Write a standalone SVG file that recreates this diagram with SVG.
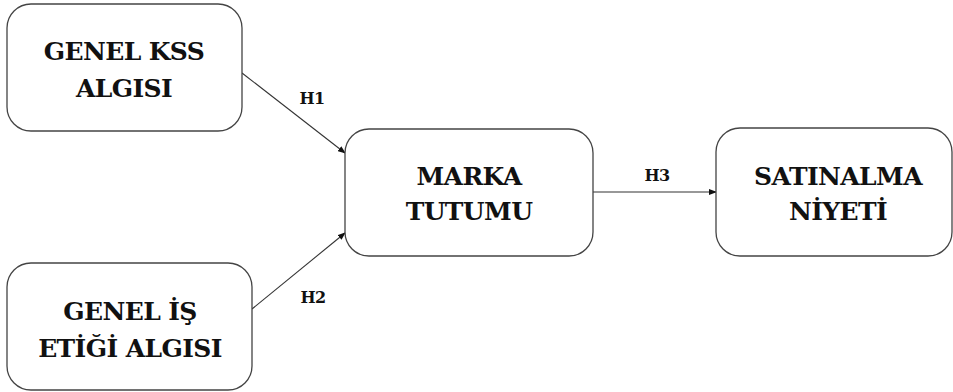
<svg xmlns="http://www.w3.org/2000/svg" width="953" height="392" viewBox="0 0 953 392">
<defs>
<style>
.box{fill:#fff;stroke:#444;stroke-width:1.3}
.t{font-family:'DejaVu Serif',serif;font-weight:700;font-size:25px;fill:#111;text-anchor:middle;letter-spacing:-0.6px}
.h{font-family:'DejaVu Serif',serif;font-weight:700;font-size:16px;fill:#111;text-anchor:middle;letter-spacing:-0.5px}
.c{stroke:#333;stroke-width:1.1;fill:none;marker-end:url(#ah)}
</style>
<marker id="ah" markerWidth="8" markerHeight="6" refX="7" refY="3" orient="auto" markerUnits="userSpaceOnUse">
<path d="M0,0 L8,3 L0,6 Z" fill="#111"/>
</marker>
</defs>
<rect width="953" height="392" fill="#fff"/>
<g id="connectors">
<line class="c" x1="242" y1="73" x2="345" y2="153"/>
<line class="c" x1="252" y1="309" x2="345" y2="233"/>
<line class="c" x1="593" y1="192" x2="716" y2="192"/>
<text class="h" x="312" y="104">H1</text>
<text class="h" x="313" y="303">H2</text>
<text class="h" x="657" y="181">H3</text>
</g>
<g id="n1">
<rect class="box" x="7" y="4" width="235" height="127" rx="24"/>
<text class="t" x="124" y="60">GENEL KSS</text>
<text class="t" x="124" y="97">ALGISI</text>
</g>
<g id="n2">
<rect class="box" x="7" y="263" width="245" height="127" rx="24"/>
<text class="t" x="130" y="320">GENEL İŞ</text>
<text class="t" x="130" y="357">ETİĞİ ALGISI</text>
</g>
<g id="n3">
<rect class="box" x="345" y="129" width="248" height="127" rx="24"/>
<text class="t" x="469" y="185">MARKA</text>
<text class="t" x="469" y="220">TUTUMU</text>
</g>
<g id="n4">
<rect class="box" x="716" y="128" width="236" height="128" rx="24"/>
<text class="t" x="838" y="185">SATINALMA</text>
<text class="t" x="838" y="220">NİYETİ</text>
</g>
</svg>
